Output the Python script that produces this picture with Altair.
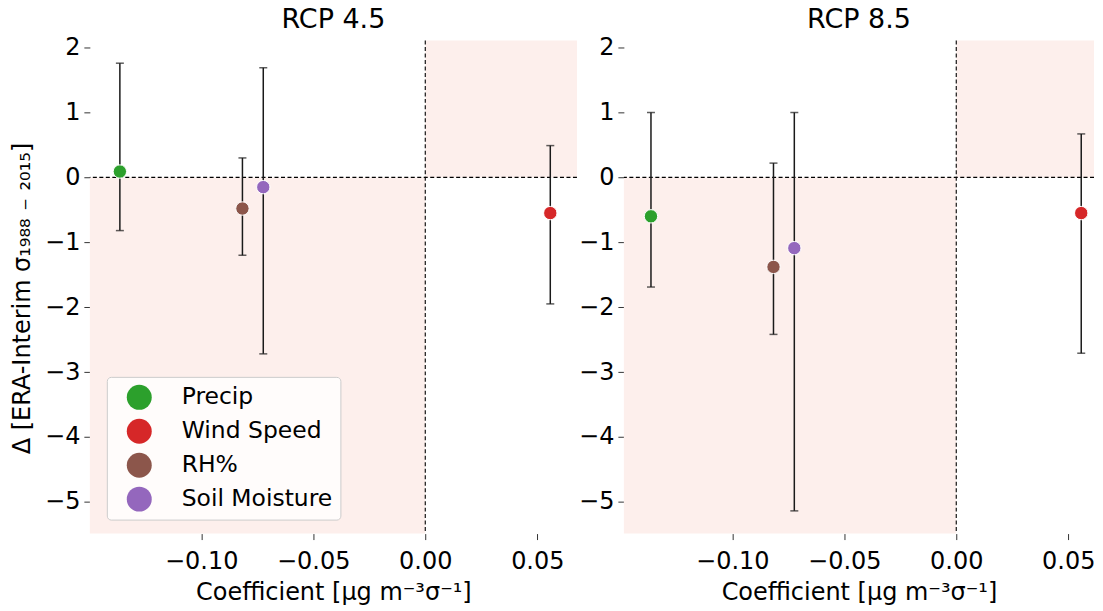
import altair as alt
import pandas as pd

# ---- data ----
variables = ["Precip", "Wind Speed", "RH%", "Soil Moisture"]
palette = ["#2ca02c", "#d62728", "#8c564b", "#9467bd"]
coefficient = [-0.1363, 0.0558, -0.0816, -0.0723]

rcp45_delta = [0.09, -0.55, -0.48, -0.15]
rcp45_low = [-0.82, -1.95, -1.20, -2.72]
rcp45_high = [1.76, 0.49, 0.30, 1.69]

rcp85_delta = [-0.60, -0.55, -1.38, -1.09]
rcp85_low = [-1.69, -2.71, -2.42, -5.14]
rcp85_high = [1.00, 0.67, 0.22, 1.00]

panel_titles = ["RCP 4.5", "RCP 8.5"]
x_ticks = [-0.10, -0.05, 0.00, 0.05]
y_ticks = [-5, -4, -3, -2, -1, 0, 1, 2]
x_limits = [-0.1497, 0.0677]
x_limits_right = [-0.1484, 0.0615]
y_limits = [-5.49, 2.11]

FONT = "DejaVu Sans"
X_TITLE = "Coefficient [μg m⁻³σ⁻¹]"
Y_TITLE = "Δ  [ERA-Interim σ₁₉₈₈ ₋ ₂₀₁₅]"
SHADE = "#fdefec"
MINUS_X = "replace(format(datum.value, '.2f'), '-', '\u2212')"
MINUS_Y = "replace(format(datum.value, 'd'), '-', '\u2212')"


def panel(title, delta, low, high, xlim, width, left):
    df = pd.DataFrame({"variable": variables, "coef": coefficient,
                       "delta": delta, "low": low, "high": high})
    shade = pd.DataFrame({"x1": [xlim[0], 0.0], "x2": [0.0, xlim[1]],
                          "y1": [y_limits[0], 0.0], "y2": [0.0, y_limits[1]]})
    zero = pd.DataFrame({"z": [0.0]})

    xs = alt.Scale(domain=xlim, nice=False, zero=False)
    ys = alt.Scale(domain=y_limits, nice=False, zero=False)
    xaxis = alt.Axis(values=x_ticks, labelExpr=MINUS_X, title=X_TITLE)
    if left:
        yaxis = alt.Axis(values=y_ticks, labelExpr=MINUS_Y, title=Y_TITLE,
                         minExtent=46, maxExtent=46, titlePadding=9, titleY=258)
    else:
        yaxis = alt.Axis(values=y_ticks, labelExpr=MINUS_Y, title=None,
                         minExtent=46, maxExtent=46)

    def X(field):
        return alt.X(field, type="quantitative", scale=xs, axis=xaxis, title=X_TITLE)

    def Y(field):
        return alt.Y(field, type="quantitative", scale=ys, axis=yaxis,
                     title=Y_TITLE if left else None)

    shading = alt.Chart(shade).mark_rect(color=SHADE).encode(
        x=X("x1"), x2="x2", y=Y("y1"), y2="y2")
    hline = alt.Chart(zero).mark_rule(color="black", strokeDash=[4, 2.5], strokeWidth=1.1).encode(
        y=Y("z"))
    vline = alt.Chart(zero).mark_rule(color="black", strokeDash=[4, 2.5], strokeWidth=1.1).encode(
        x=X("z"))
    bars = alt.Chart(df).mark_rule(color="#1a1a1a", strokeWidth=1.5).encode(
        x=X("coef"), y=Y("low"), y2="high")
    cap_lo = alt.Chart(df).mark_tick(color="#1a1a1a", orient="horizontal", size=8, thickness=1.5).encode(
        x=X("coef"), y=Y("low"))
    cap_hi = alt.Chart(df).mark_tick(color="#1a1a1a", orient="horizontal", size=8, thickness=1.5).encode(
        x=X("coef"), y=Y("high"))

    if left:
        legend = alt.Legend(title=None, orient="none", legendX=17, legendY=337,
                            symbolType="circle", symbolSize=625, symbolStrokeWidth=0,
                            symbolOpacity=1, labelFont=FONT, labelFontSize=23.5,
                            labelColor="black", labelLimit=400,
                            fillColor="rgba(255,255,255,0.8)", strokeColor="#cccccc",
                            cornerRadius=4, padding=8, rowPadding=9,
                            symbolOffset=12, labelOffset=30)
    else:
        legend = None
    color = alt.Color("variable:N", scale=alt.Scale(domain=variables, range=palette),
                      legend=legend)
    points = alt.Chart(df).mark_circle(size=180, opacity=1, stroke="white", strokeWidth=1).encode(
        x=X("coef"), y=Y("delta"), color=color)

    ttl = alt.TitleParams(text=title, font=FONT, fontSize=27, fontWeight="normal",
                          color="black", anchor="middle", frame="group", offset=2)
    return alt.layer(shading, hline, vline, bars, cap_lo, cap_hi, points).properties(
        width=width, height=494, title=ttl)


left_panel = panel(panel_titles[0], rcp45_delta, rcp45_low, rcp45_high, x_limits, 488, True)
right_panel = panel(panel_titles[1], rcp85_delta, rcp85_low, rcp85_high, x_limits_right, 471, False)

chart = alt.hconcat(left_panel, right_panel, spacing=0,
                    padding={"left": 3, "top": -3, "right": 0, "bottom": 0}).resolve_scale(
    color="independent").resolve_legend(color="independent").configure_view(
    stroke=None).configure_axis(
    domain=False, grid=False, labelFont=FONT, titleFont=FONT, labelFontSize=24,
    titleFontSize=24, titleFontWeight="normal", labelColor="black", titleColor="black",
    tickSize=6, tickColor="#333333", tickWidth=1, labelPadding=4).configure_axisX(
    titlePadding=7, labelPadding=10)

chart.save("out.html", embed_options={"renderer": "svg", "actions": False})
